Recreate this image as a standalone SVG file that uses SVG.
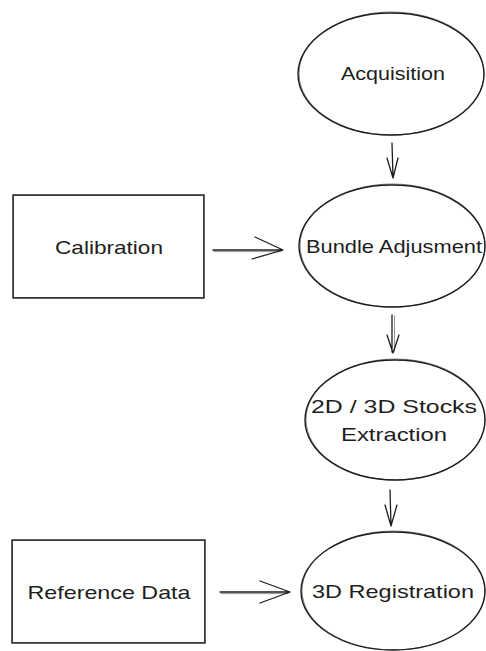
<svg xmlns="http://www.w3.org/2000/svg" width="486" height="651" viewBox="0 0 486 651">
  <style>
    .shape { fill: #ffffff; stroke: #1e1e1e; stroke-width: 1.4; }
    .shape2 { fill: none; stroke: #1e1e1e; stroke-width: 0.8; opacity: 0.7; }
    .label { font-family: "Liberation Sans", "DejaVu Sans", sans-serif; font-size: 19px; fill: #1e1e1e; text-anchor: middle; }
    .edge { fill: none; stroke: #1e1e1e; stroke-width: 1.3; stroke-linecap: round; stroke-linejoin: round; }
    .edge2 { fill: none; stroke: #1e1e1e; stroke-width: 0.8; opacity: 0.6; stroke-linecap: round; }
  </style>
  <rect width="486" height="651" fill="#ffffff"/>

  <!-- process ellipses -->
  <g id="acquisition">
    <ellipse class="shape" cx="391" cy="74" rx="93" ry="61"/>
    <ellipse class="shape2" cx="391.5" cy="73.5" rx="92.5" ry="61.5"/>
    <text class="label" x="393" y="80" textLength="104" lengthAdjust="spacingAndGlyphs">Acquisition</text>
  </g>

  <g id="bundle-adjustment">
    <ellipse class="shape" cx="392" cy="246" rx="93" ry="61"/>
    <ellipse class="shape2" cx="392.5" cy="245.5" rx="92.5" ry="61.5"/>
    <text class="label" x="394" y="253" textLength="176" lengthAdjust="spacingAndGlyphs">Bundle Adjusment</text>
  </g>

  <g id="stocks-extraction">
    <ellipse class="shape" cx="395" cy="420" rx="90" ry="60"/>
    <ellipse class="shape2" cx="395.5" cy="419.5" rx="89.5" ry="60.5"/>
    <text class="label" x="394" y="413" textLength="166" lengthAdjust="spacingAndGlyphs">2D / 3D Stocks</text>
    <text class="label" x="394" y="441" textLength="106" lengthAdjust="spacingAndGlyphs">Extraction</text>
  </g>

  <g id="registration">
    <ellipse class="shape" cx="393" cy="591" rx="92" ry="59"/>
    <ellipse class="shape2" cx="393.5" cy="590.5" rx="91.5" ry="59.5"/>
    <text class="label" x="393" y="598" textLength="162" lengthAdjust="spacingAndGlyphs">3D Registration</text>
  </g>

  <!-- input boxes -->
  <g id="calibration">
    <rect class="shape" x="13" y="195" width="191" height="103"/>
    <rect class="shape2" x="13.6" y="195.6" width="190" height="102"/>
    <text class="label" x="109" y="254" textLength="108" lengthAdjust="spacingAndGlyphs">Calibration</text>
  </g>

  <g id="reference-data">
    <rect class="shape" x="12" y="540" width="193" height="103"/>
    <rect class="shape2" x="12.6" y="540.6" width="192" height="102"/>
    <text class="label" x="109" y="599" textLength="163" lengthAdjust="spacingAndGlyphs">Reference Data</text>
  </g>

  <!-- connectors -->
  <g id="connectors">
    <path class="edge" d="M392 143 L393 178 M387 158 L393 178 L398 158"/>
    <path class="edge" d="M392 315 L392 352 M387 335 L393 353 L399 335"/>
    <path class="edge2" d="M394.5 316 L394.5 351"/>
    <path class="edge" d="M390 490 L391 525 M385 505 L391 526 L397 505"/>
    <path class="edge" d="M213 250 L283 250 M255 237 L283 250 L252 259"/>
    <path class="edge2" d="M214 251.6 L281 251.6"/>
    <path class="edge" d="M220 592 L290 592 M260 581 L290 592 L260 603"/>
    <path class="edge2" d="M221 593.6 L288 593.6"/>
  </g>
</svg>
